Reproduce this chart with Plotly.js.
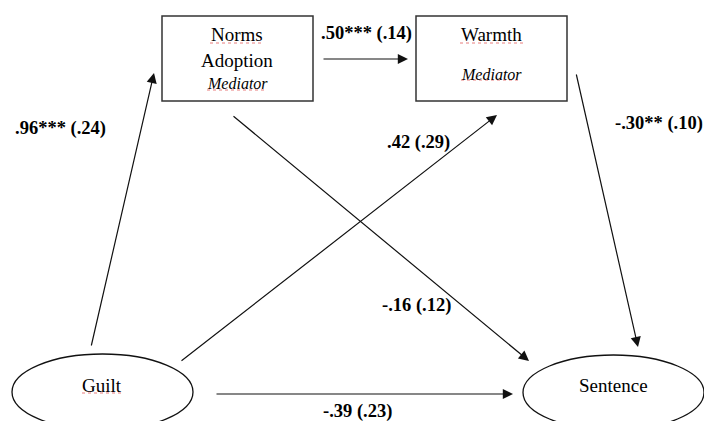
<!DOCTYPE html>
<html>
<head>
<meta charset="utf-8">
<script src="https://cdn.plot.ly/plotly-3.0.1.min.js"></script>
<style>html,body{margin:0;padding:0;background:#fff;}#chart{width:704px;height:421px;}</style>
</head>
<body>
<div id="chart"></div>
<script>
// ---- diagram content ----
const nodeNames = ['Norms', 'Warmth', 'Guilt', 'Sentence'];
const nodeSecondLine = ['Adoption', '', '', ''];
const nodeRoles = ['Mediator', 'Mediator', '', ''];
const pathFrom = ['Guilt', 'Norms', 'Guilt', 'Warmth', 'Norms', 'Guilt'];
const pathTo = ['Norms', 'Warmth', 'Warmth', 'Sentence', 'Sentence', 'Sentence'];
const pathCoef = ['.96***', '.50***', '.42', '-.30**', '-.16', '-.39'];
const pathSE = ['(.24)', '(.14)', '(.29)', '(.10)', '(.12)', '(.23)'];

// ---- layout geometry (diagram coordinates, y down) ----
const boxGeom = {
  Norms:  {x0: 162, x1: 313, y0: 16, y1: 101},
  Warmth: {x0: 416, x1: 567, y0: 16, y1: 101}
};
const ellipseGeom = {
  Guilt:    {x0: 12,  x1: 193, y0: 354, y1: 430},
  Sentence: {x0: 523, x1: 704, y0: 355, y1: 430}
};
const textGeom = {
  Norms:    {x: 237, name: 34, second: 60, role: 83},
  Warmth:   {x: 491, name: 34, role: 74},
  Guilt:    {x: 102, name: 385},
  Sentence: {x: 613, name: 385}
};
const underlineGeom = [
  {x0: 210, x1: 263, y: 43},
  {x0: 207, x1: 267, y: 90},
  {x0: 460, x1: 523, y: 43},
  {x0: 461, x1: 521, y: 80},
  {x0: 82,  x1: 123, y: 393}
];
const arrowGeom = [
  {tx: 91,  ty: 347, hx: 154, hy: 73},
  {tx: 322, ty: 59,  hx: 408, hy: 59},
  {tx: 180, ty: 362, hx: 497, hy: 115},
  {tx: 576, ty: 73,  hx: 638, hy: 347},
  {tx: 232, ty: 115, hx: 529, hy: 361},
  {tx: 215, ty: 394, hx: 513, hy: 394}
];
const labelGeom = [
  {x: 13,  y: 128, anchor: 'left'},
  {x: 366, y: 33,  anchor: 'center'},
  {x: 418, y: 142, anchor: 'center'},
  {x: 613, y: 123, anchor: 'left'},
  {x: 453, y: 305, anchor: 'right'},
  {x: 357, y: 411, anchor: 'center'}
];

const serif = "'Liberation Serif', 'Times New Roman', Times, serif";
const ink = '#111';
const shapes = [];
const annotations = [];

// boxes
['Norms', 'Warmth'].forEach(n => {
  const g = boxGeom[n];
  shapes.push({type: 'rect', xref: 'x', yref: 'y', x0: g.x0, x1: g.x1, y0: g.y0, y1: g.y1,
    line: {color: '#333', width: 1.5}, fillcolor: 'rgba(0,0,0,0)'});
});
// ellipses
['Guilt', 'Sentence'].forEach(n => {
  const g = ellipseGeom[n];
  shapes.push({type: 'circle', xref: 'x', yref: 'y', x0: g.x0, x1: g.x1, y0: g.y0, y1: g.y1,
    line: {color: ink, width: 1.3}, fillcolor: 'rgba(0,0,0,0)'});
});
// spell-check style underlines
underlineGeom.forEach(u => {
  shapes.push({type: 'line', xref: 'x', yref: 'y', x0: u.x0, x1: u.x1, y0: u.y, y1: u.y,
    line: {color: 'rgba(225,80,80,0.75)', width: 1, dash: 'dot'}});
});

// node texts
nodeNames.forEach((n, i) => {
  const t = textGeom[n];
  annotations.push({x: t.x, y: t.name, xref: 'x', yref: 'y', text: n, showarrow: false,
    xanchor: 'center', yanchor: 'middle', font: {family: serif, size: 19, color: '#000'}});
  if (nodeSecondLine[i]) {
    annotations.push({x: t.x, y: t.second, xref: 'x', yref: 'y', text: nodeSecondLine[i], showarrow: false,
      xanchor: 'center', yanchor: 'middle', font: {family: serif, size: 19, color: '#000'}});
  }
  if (nodeRoles[i]) {
    annotations.push({x: t.x, y: t.role, xref: 'x', yref: 'y', text: '<i>' + nodeRoles[i] + '</i>', showarrow: false,
      xanchor: 'center', yanchor: 'middle', font: {family: serif, size: 16, color: '#000'}});
  }
});

// arrows and coefficient labels
pathCoef.forEach((c, i) => {
  const a = arrowGeom[i];
  annotations.push({x: a.hx, y: a.hy, ax: a.tx, ay: a.ty, xref: 'x', yref: 'y', axref: 'x', ayref: 'y',
    text: '', showarrow: true, arrowhead: 2, arrowsize: 1.7, arrowwidth: 1.2, arrowcolor: ink,
    standoff: 0, startstandoff: 0});
  const l = labelGeom[i];
  annotations.push({x: l.x, y: l.y, xref: 'x', yref: 'y', text: '<b>' + c + ' ' + pathSE[i] + '</b>',
    showarrow: false, xanchor: l.anchor, yanchor: 'middle',
    font: {family: serif, size: 18.5, color: '#000'}});
});

const layout = {
  width: 704, height: 421,
  margin: {l: 0, r: 0, t: 0, b: 0, pad: 0},
  paper_bgcolor: '#fff', plot_bgcolor: '#fff',
  showlegend: false,
  font: {family: serif},
  xaxis: {range: [0, 704], visible: false, fixedrange: true},
  yaxis: {range: [421, 0], visible: false, fixedrange: true},
  shapes: shapes,
  annotations: annotations
};

Plotly.newPlot('chart', [{x: [], y: [], type: 'scatter', hoverinfo: 'skip'}], layout, {displayModeBar: false, staticPlot: true});
</script>
</body>
</html>
